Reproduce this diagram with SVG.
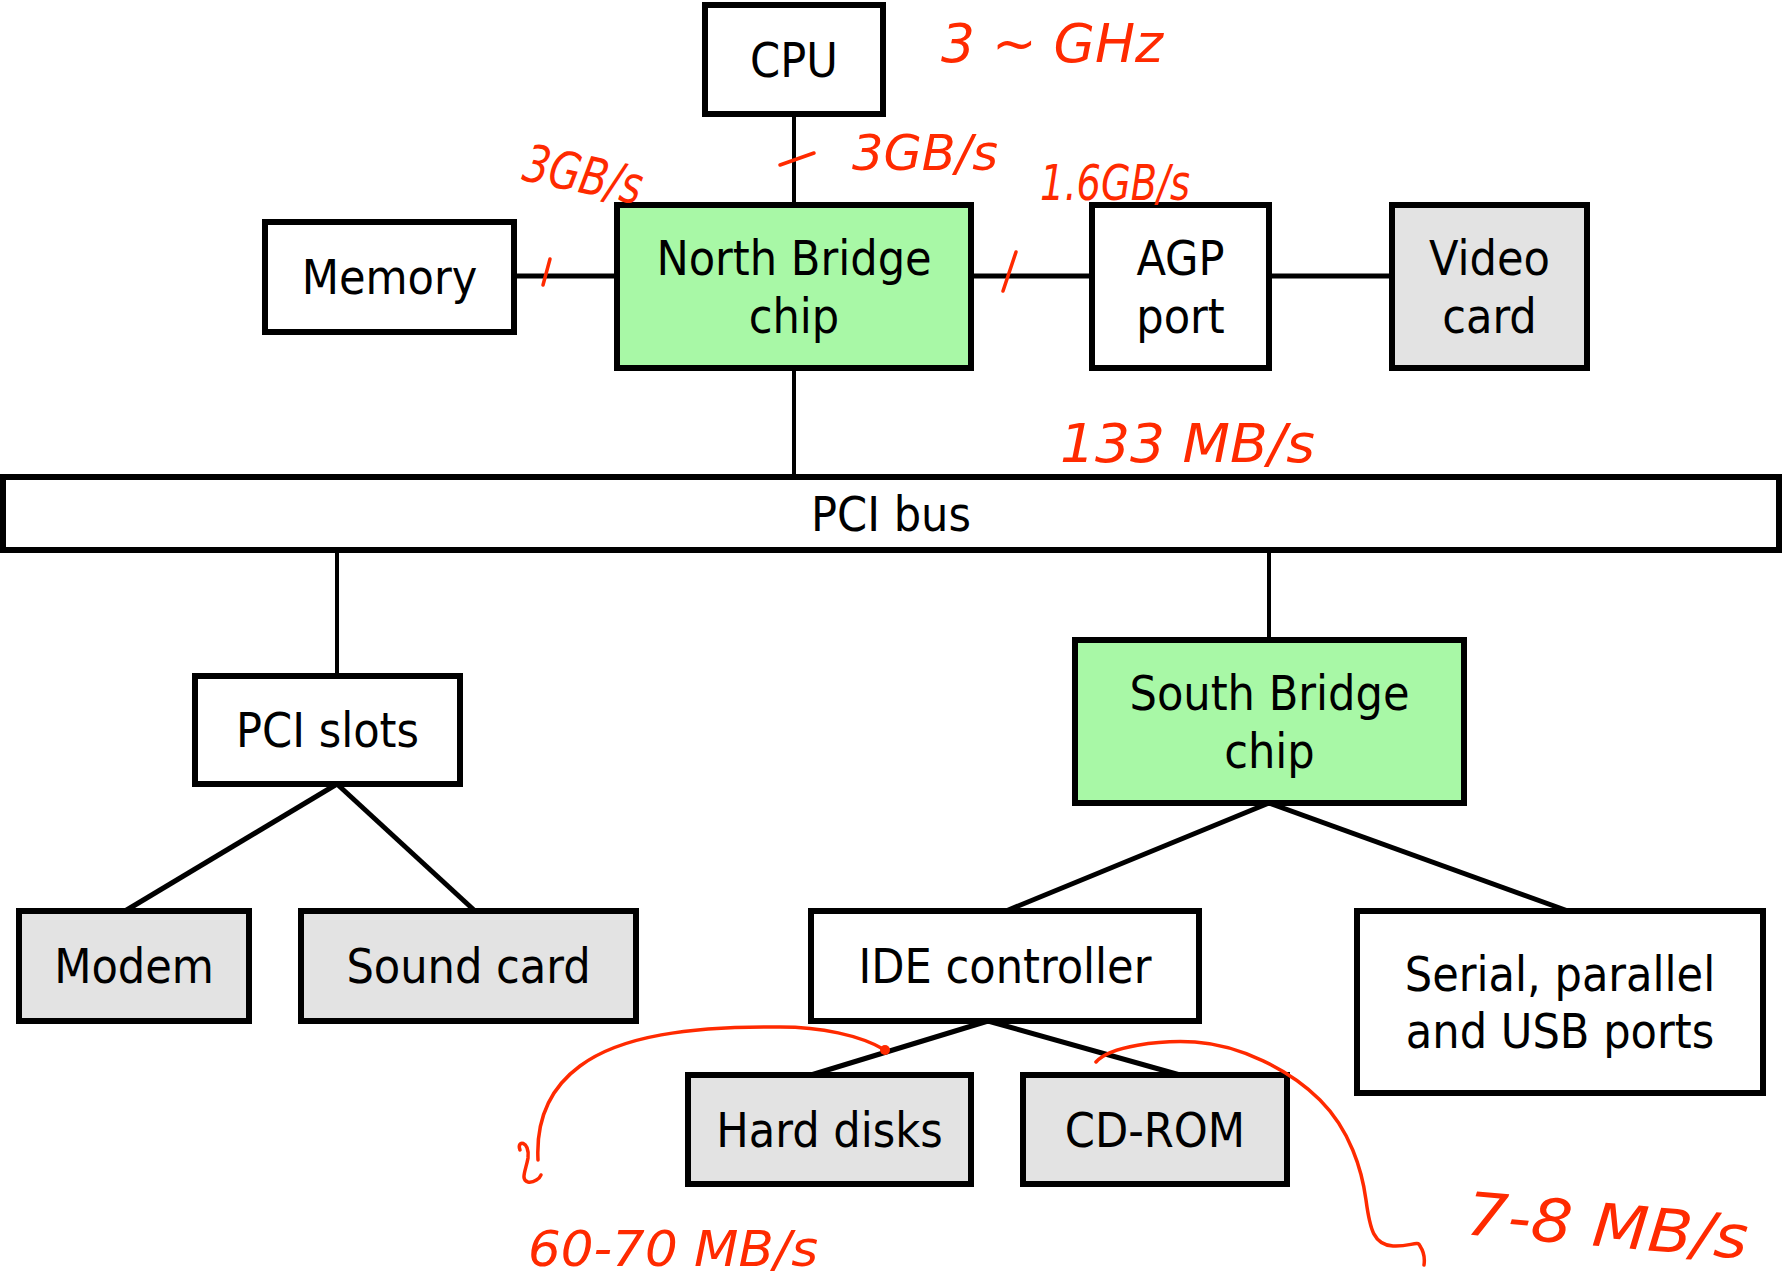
<svg xmlns="http://www.w3.org/2000/svg" width="1782" height="1285" viewBox="0 0 1782 1285">
<style>
.box{stroke:#000;stroke-width:6;}
.w{fill:#fff;}
.g{fill:#a8f8a6;}
.s{fill:#e3e3e3;}
.t{font-family:"DejaVu Sans Condensed","DejaVu Sans",sans-serif;font-size:48px;fill:#000;text-anchor:middle;}
.c{stroke:#000;stroke-width:5;fill:none;}
.cv{stroke:#000;stroke-width:4;fill:none;}
.r{stroke:#ff2a00;stroke-width:3.5;fill:none;stroke-linecap:round;stroke-linejoin:round;}
.rt{font-family:"DejaVu Sans","Liberation Sans",sans-serif;font-style:italic;fill:#ff2a00;}
</style>
<rect width="1782" height="1285" fill="#fff"/>
<g id="connectors">
<line class="cv" x1="794" y1="115" x2="794" y2="205"/>
<line class="c" x1="514" y1="276" x2="617" y2="276"/>
<line class="c" x1="971" y1="276" x2="1092" y2="276"/>
<line class="c" x1="1269" y1="276" x2="1392" y2="276"/>
<line class="cv" x1="794" y1="368" x2="794" y2="476"/>
<line class="cv" x1="337" y1="550" x2="337" y2="676"/>
<line class="cv" x1="1269" y1="550" x2="1269" y2="640"/>
<line class="c" x1="337" y1="784" x2="125" y2="911"/>
<line class="c" x1="337" y1="784" x2="475" y2="911"/>
<line class="c" x1="1269" y1="803" x2="1006" y2="911"/>
<line class="c" x1="1269" y1="803" x2="1568" y2="911"/>
<line class="c" x1="988" y1="1021" x2="811" y2="1075"/>
<line class="c" x1="988" y1="1021" x2="1180" y2="1075"/>
</g>
<g id="cpu"><rect class="box w" x="705" y="5" width="178" height="109"/><text class="t" x="794" y="77">CPU</text></g>
<g id="memory"><rect class="box w" x="265" y="222" width="249" height="110"/><text class="t" x="389.5" y="294">Memory</text></g>
<g id="northbridge"><rect class="box g" x="617" y="205" width="354" height="163"/><text class="t" x="794" y="275">North Bridge</text><text class="t" x="794" y="333">chip</text></g>
<g id="agp"><rect class="box w" x="1092" y="205" width="177" height="163"/><text class="t" x="1180.5" y="275">AGP</text><text class="t" x="1180.5" y="333">port</text></g>
<g id="video"><rect class="box s" x="1392" y="205" width="195" height="163"/><text class="t" x="1489.5" y="275">Video</text><text class="t" x="1489.5" y="333">card</text></g>
<g id="pcibus"><rect class="box w" x="3" y="477" width="1776" height="73"/><text class="t" x="891" y="531">PCI bus</text></g>
<g id="pcislots"><rect class="box w" x="195" y="676" width="265" height="108"/><text class="t" x="327.5" y="747">PCI slots</text></g>
<g id="modem"><rect class="box s" x="19" y="911" width="230" height="110"/><text class="t" x="134" y="983">Modem</text></g>
<g id="soundcard"><rect class="box s" x="301" y="911" width="335" height="110"/><text class="t" x="468.5" y="983">Sound card</text></g>
<g id="southbridge"><rect class="box g" x="1075" y="640" width="389" height="163"/><text class="t" x="1269.5" y="710">South Bridge</text><text class="t" x="1269.5" y="768">chip</text></g>
<g id="ide"><rect class="box w" x="811" y="911" width="388" height="110"/><text class="t" x="1005" y="983">IDE controller</text></g>
<g id="serial"><rect class="box w" x="1357" y="911" width="406" height="182"/><text class="t" x="1560" y="991">Serial, parallel</text><text class="t" x="1560" y="1048">and USB ports</text></g>
<g id="harddisks"><rect class="box s" x="688" y="1075" width="283" height="109"/><text class="t" x="829.5" y="1147">Hard disks</text></g>
<g id="cdrom"><rect class="box s" x="1023" y="1075" width="264" height="109"/><text class="t" x="1155" y="1147">CD-ROM</text></g>
<g id="annotations">
<path class="r" d="M780 165 L814 153"/>
<path class="r" d="M543 285 L550 259"/>
<path class="r" d="M1003 291 L1016 252"/>
<circle cx="885" cy="1050" r="5" fill="#ff2a00"/>
<path class="r" d="M885 1050 C860 1035 820 1027 780 1027 C690 1026 620 1036 580 1066 C550 1088 536 1120 538 1160"/>
<path class="r" d="M520 1150 C516 1140 530 1140 528 1158 C526 1170 520 1180 528 1182 C534 1183 540 1178 541 1175"/>
<path class="r" d="M1096 1062 C1110 1046 1160 1040 1195 1042 C1240 1045 1290 1070 1320 1100 C1350 1130 1362 1170 1366 1200 C1370 1230 1374 1245 1393 1246 C1410 1247 1418 1240 1420 1246 C1424 1252 1425 1258 1424 1265"/>
<text class="rt" x="941" y="62" font-size="54" textLength="222" lengthAdjust="spacingAndGlyphs">3 ~ GHz</text>
<text class="rt" x="852" y="170" font-size="50" textLength="146" lengthAdjust="spacingAndGlyphs">3GB/s</text>
<text class="rt" x="523" y="192" font-size="52" textLength="120" lengthAdjust="spacingAndGlyphs" transform="rotate(12 580 175)">3GB/s</text>
<text class="rt" x="1040" y="200" font-size="50" textLength="150" lengthAdjust="spacingAndGlyphs">1.6GB/s</text>
<text class="rt" x="1060" y="462" font-size="54" textLength="255" lengthAdjust="spacingAndGlyphs">133 MB/s</text>
<text class="rt" x="528" y="1266" font-size="50" textLength="290" lengthAdjust="spacingAndGlyphs">60-70 MB/s</text>
<text class="rt" x="1466" y="1246" font-size="60" textLength="282" lengthAdjust="spacingAndGlyphs" transform="rotate(5 1600 1230)">7-8 MB/s</text>
</g>
</svg>
